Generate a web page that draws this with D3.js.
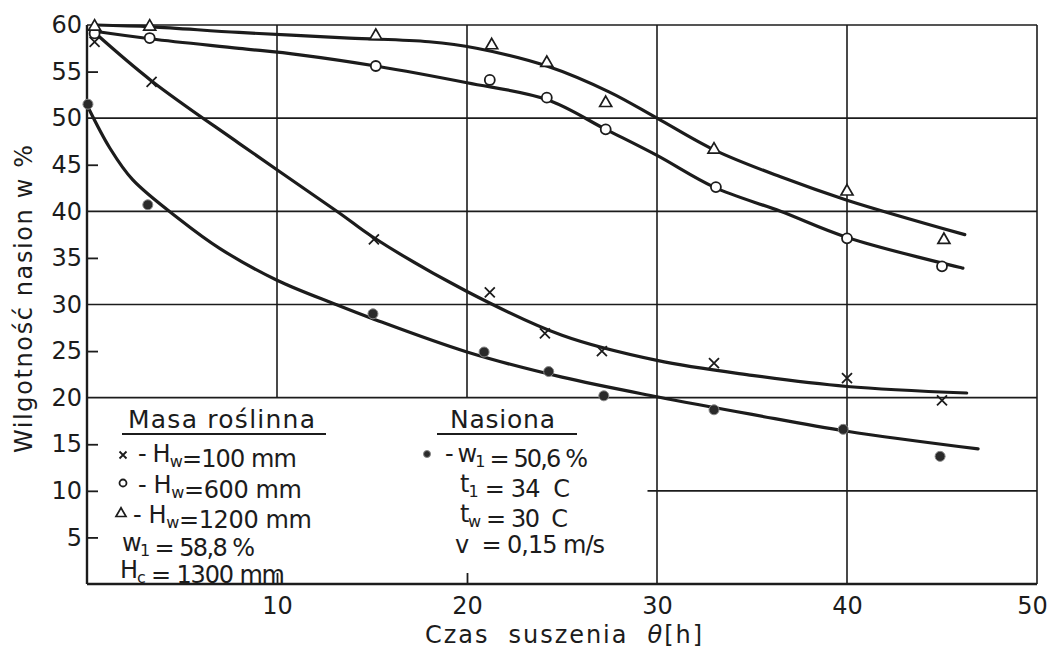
<!DOCTYPE html>
<html>
<head>
<meta charset="utf-8">
<script src="https://cdn.jsdelivr.net/npm/d3@7"></script>
<style>
    body { margin: 0; background: #fff; }
    text { font-family: "DejaVu Sans", sans-serif; fill: #1c1c1c; }
</style>
</head>
<body>
<svg id="chart" width="1051" height="649"></svg>
<script>
"use strict";

// axes
var XTicks = [10, 20, 30, 40, 50];
var YTicks = [5, 10, 15, 20, 25, 30, 35, 40, 45, 50, 55, 60];
var YInnerTicks = [5, 10, 15, 25, 35, 45, 55];
var XInnerTicks = [10, 20];

// measured points, time [h]
var crossX = [0.4, 3.4, 15.1, 21.2, 24.1, 27.1, 33.0, 40.0, 45.0];
var crossY = [58.2, 53.9, 37.0, 31.3, 26.9, 25.0, 23.7, 22.1, 19.7];
var circleX = [0.4, 3.3, 15.2, 21.2, 24.2, 27.3, 33.1, 40.0, 45.0];
var circleY = [59.1, 58.6, 55.6, 54.1, 52.2, 48.8, 42.6, 37.1, 34.1];
var triangleX = [0.4, 3.3, 15.2, 21.3, 24.2, 27.3, 33.0, 40.0, 45.1];
var triangleY = [59.9, 59.9, 58.9, 57.9, 56.0, 51.7, 46.7, 42.2, 37.0];
var dotX = [0.05, 3.2, 15.05, 20.9, 24.3, 27.2, 33.0, 39.8, 44.9];
var dotY = [51.5, 40.7, 29.0, 24.9, 22.8, 20.2, 18.7, 16.6, 13.7];

// fitted curves as drawn
var crossCurve = [[0.5, 59.0], [3.4, 54.0], [8, 47.3], [13.3, 39.8], [15, 37.3], [20, 31.4], [25, 26.7], [30, 24.0], [35, 22.4], [40, 21.2], [46.3, 20.5]];
var circleCurve = [[0.5, 59.3], [3.4, 58.5], [8, 57.5], [11.2, 56.8], [15.2, 55.6], [20, 53.8], [24.2, 52.0], [27.3, 48.8], [30, 46.0], [33, 42.6], [36.5, 40.0], [40, 37.2], [46.1, 33.9]];
var triangleCurve = [[0.5, 60.0], [3.4, 59.8], [8, 59.2], [13.8, 58.6], [18, 58.2], [20.5, 57.5], [24.2, 55.6], [27.5, 52.8], [30, 50.0], [33, 46.6], [36.5, 43.7], [40, 41.2], [46.2, 37.5]];
var dotCurve = [[0.05, 51.2], [1.2, 46.8], [2.4, 43.4], [4.9, 39.1], [7, 36.0], [10, 32.6], [13.1, 30.0], [15, 28.5], [20, 24.9], [25, 22.2], [30, 20.1], [35, 18.2], [40, 16.4], [46.9, 14.5]];

var Ink = "#1c1c1c";

var svg = d3.select("#chart");

var x = d3.scaleLinear().domain([0, 50]).range([87, 1037]);
var y = d3.scaleLinear().domain([0, 60]).range([584, 25]);

function zip(xs, ys) {
    return xs.map(function (v, i) {
        return [v, ys[i]];
    });
}

// ---- grid ----
var grid = svg.append("g").attr("stroke", Ink).attr("stroke-width", 1.6);
[20, 30, 40, 50, 60].forEach(function (v) {
    grid.append("line").attr("x1", x(0)).attr("x2", x(50)).attr("y1", y(v)).attr("y2", y(v));
});
grid.append("line").attr("x1", x(29.5)).attr("x2", x(50)).attr("y1", y(10)).attr("y2", y(10));
[10, 20].forEach(function (v) {
    grid.append("line").attr("x1", x(v)).attr("x2", x(v)).attr("y1", y(60)).attr("y2", y(20));
});
[30, 40, 50].forEach(function (v) {
    grid.append("line").attr("x1", x(v)).attr("x2", x(v)).attr("y1", y(60)).attr("y2", y(0));
});

// ---- axes ----
function cleanAxis(g) {
    g.attr("font-size", null).attr("font-family", null);
    g.select(".domain").remove();
    g.selectAll("line").attr("stroke", Ink).attr("stroke-width", 1.8);
    g.selectAll("text").style("font-size", "24px");
}

svg.append("g").attr("transform", "translate(" + x(0) + ",0)")
    .call(d3.axisLeft(y).tickValues(YTicks).tickSize(0).tickPadding(5).tickFormat(d3.format("d")))
    .call(cleanAxis);
svg.append("g").attr("transform", "translate(" + x(0) + ",0)")
    .call(d3.axisRight(y).tickValues(YInnerTicks).tickSize(11).tickFormat(""))
    .call(cleanAxis);
var xAxisG = svg.append("g").attr("transform", "translate(0," + y(0) + ")")
    .call(d3.axisBottom(x).tickValues(XTicks).tickSize(0).tickPadding(13).tickFormat(d3.format("d")))
    .call(cleanAxis);
// last label sits against the page edge, pull it in a little
xAxisG.selectAll(".tick text").filter(function (d) { return d === 50; }).attr("dx", -5);
svg.append("g").attr("transform", "translate(0," + y(0) + ")")
    .call(d3.axisTop(x).tickValues(XInnerTicks).tickSize(11).tickFormat(""))
    .call(cleanAxis);

svg.append("line").attr("x1", x(0)).attr("x2", x(0)).attr("y1", y(60)).attr("y2", y(0))
    .attr("stroke", Ink).attr("stroke-width", 2.4);
svg.append("line").attr("x1", x(0)).attr("x2", x(50)).attr("y1", y(0)).attr("y2", y(0))
    .attr("stroke", Ink).attr("stroke-width", 2.4);

svg.append("text")
    .attr("transform", "translate(32,299) rotate(-90)")
    .attr("text-anchor", "middle")
    .attr("textLength", 308).attr("lengthAdjust", "spacing")
    .style("font-size", "24px")
    .text("Wilgotność nasion w %");

svg.append("text")
    .attr("x", 425).attr("y", 643)
    .attr("textLength", 277).attr("lengthAdjust", "spacing")
    .attr("xml:space", "preserve")
    .style("font-size", "24px")
    .html('Czas  suszenia  <tspan font-style="italic">θ</tspan>[h]');

// ---- curves ----
var line = d3.line()
    .x(function (d) { return x(d[0]); })
    .y(function (d) { return y(d[1]); })
    .curve(d3.curveCatmullRom.alpha(0.5));

[crossCurve, circleCurve, triangleCurve, dotCurve].forEach(function (c) {
    svg.append("path").attr("d", line(c))
        .attr("fill", "none").attr("stroke", Ink).attr("stroke-width", 3.2)
        .attr("stroke-linecap", "round");
});

// ---- markers ----
function drawCross(g, cx, cy, s) {
    g.append("path")
        .attr("d", "M" + (cx - s) + "," + (cy - s) + "L" + (cx + s) + "," + (cy + s) +
            "M" + (cx + s) + "," + (cy - s) + "L" + (cx - s) + "," + (cy + s))
        .attr("stroke", Ink).attr("stroke-width", 1.8).attr("fill", "none");
}

function drawCircle(g, cx, cy, r) {
    g.append("circle").attr("cx", cx).attr("cy", cy).attr("r", r)
        .attr("fill", "#fff").attr("stroke", Ink).attr("stroke-width", 1.8);
}

function drawTriangle(g, cx, cy, s) {
    var h = s * 0.87;
    g.append("path")
        .attr("d", "M" + cx + "," + (cy - h * 0.6) + "L" + (cx + s / 2) + "," + (cy + h * 0.4) +
            "L" + (cx - s / 2) + "," + (cy + h * 0.4) + "Z")
        .attr("fill", "#fff").attr("stroke", Ink).attr("stroke-width", 1.7);
}

function drawDot(g, cx, cy, r) {
    g.append("circle").attr("cx", cx).attr("cy", cy).attr("r", r)
        .attr("fill", "#2a2a2a").attr("stroke", "#888").attr("stroke-width", 1);
}

var marks = svg.append("g");
zip(crossX, crossY).forEach(function (p) { drawCross(marks, x(p[0]), y(p[1]), 5); });
zip(circleX, circleY).forEach(function (p) { drawCircle(marks, x(p[0]), y(p[1]), 5); });
zip(triangleX, triangleY).forEach(function (p) { drawTriangle(marks, x(p[0]), y(p[1]), 12); });
zip(dotX, dotY).forEach(function (p) { drawDot(marks, x(p[0]), y(p[1]), 5); });

// ---- legend ----
var legend = svg.append("g");

function legendText(px, py, width, parts) {
    var t = legend.append("text").attr("x", px).attr("y", py)
        .attr("textLength", width).attr("lengthAdjust", "spacing")
        .attr("xml:space", "preserve").style("font-size", "24px");
    parts.forEach(function (p) {
        if (typeof p === "string") {
            t.append("tspan").text(p);
        } else {
            t.append("tspan").attr("dy", 5).style("font-size", "16px").text(p.sub);
            t.append("tspan").attr("dy", -5).text("");
        }
    });
    return t;
}

legend.append("text").attr("x", 128).attr("y", 428)
    .attr("textLength", 187).attr("lengthAdjust", "spacing")
    .style("font-size", "25px").text("Masa roślinna");
legend.append("line").attr("x1", 122).attr("x2", 326).attr("y1", 434).attr("y2", 434)
    .attr("stroke", Ink).attr("stroke-width", 1.8);

drawCross(legend, 123, 455, 3.5);
legendText(138, 462, 159, ["- H", { sub: "w" }, "=100 mm"]);
drawCircle(legend, 123, 483, 3.5);
legendText(138, 493, 164, ["- H", { sub: "w" }, "=600 mm"]);
drawTriangle(legend, 121, 513, 10);
legendText(133, 523, 179, ["- H", { sub: "w" }, "=1200 mm"]);
legendText(122, 551, 133, ["w", { sub: "1" }, " = 58,8 %"]);
legendText(120, 578, 165, ["H", { sub: "c" }, " = 1300 mm"]);

legend.append("text").attr("x", 450).attr("y", 428)
    .attr("textLength", 105).attr("lengthAdjust", "spacing")
    .style("font-size", "25px").text("Nasiona");
legend.append("line").attr("x1", 437).attr("x2", 577).attr("y1", 434).attr("y2", 434)
    .attr("stroke", Ink).attr("stroke-width", 1.8);

drawDot(legend, 427, 454, 3.5);
legendText(445, 462, 143, ["- w", { sub: "1" }, " = 50,6 %"]);
legendText(460, 492, 110, ["t", { sub: "1" }, " = 34  C"]);
legendText(460, 522, 108, ["t", { sub: "w" }, " = 30  C"]);
legendText(455, 553, 150, ["v  = 0,15 m/s"]);
</script>
</body>
</html>
